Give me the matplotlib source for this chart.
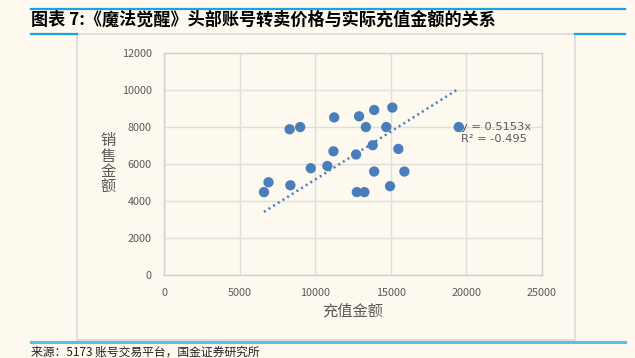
import numpy as np
import matplotlib
matplotlib.use('Agg')
import matplotlib.pyplot as plt
from matplotlib.lines import Line2D
from matplotlib.patches import Rectangle

plt.rcParams['font.family'] = ['Noto Sans CJK SC', 'DejaVu Sans']

# recharge amount (x) vs resale price (y)
recharge = [6600, 6900, 8300, 9000, 8350, 9700, 10800, 11200, 11250, 12700, 12750, 13250,
            12900, 13350, 13900, 13800, 13900, 14700, 15100, 14950, 15500, 15900, 19500]
price = [4470, 5000, 7860, 7980, 4840, 5760, 5880, 6670, 8500, 6500, 4470, 4470,
         8560, 7980, 8900, 7000, 5580, 7980, 9030, 4790, 6800, 5580, 7980]
slope = 0.5153
r2 = -0.495

title = '图表 7:《魔法觉醒》头部账号转卖价格与实际充值金额的关系'
source = '来源：5173 账号交易平台，国金证券研究所'
xlabel = '充值金额'
ylabel = '销售金额'

bg = '#FDF9EF'
blue = '#4A7EBB'
grid_c = '#DEDEDE'
text_c = '#595959'
line_c = '#1AA3E0'

W, H = 635, 358
fig = plt.figure(figsize=(W / 100, H / 100), dpi=100, facecolor=bg)


def fx(px):
    return px / W


def fy(py):
    return 1 - py / H


# header / footer rules and chart frame
fig.add_artist(Line2D([fx(31), fx(625)], [fy(8.7), fy(8.7)], color=line_c, lw=1.6))
fig.add_artist(Line2D([fx(31), fx(77)], [fy(33.8), fy(33.8)], color=line_c, lw=1.6))
fig.add_artist(Line2D([fx(575), fx(625)], [fy(33.8), fy(33.8)], color=line_c, lw=1.6))
fig.add_artist(Line2D([fx(31), fx(625)], [fy(342), fy(342)], color='#5BBDE8', lw=2.2))
fig.add_artist(Rectangle((fx(77), fy(340)), fx(575) - fx(77), fy(33.8) - fy(340),
                         facecolor=bg, edgecolor='#D9D9D9', lw=1.2, zorder=-1))

fig.text(fx(31), fy(19.5), title, fontsize=12.3, fontweight='bold', color='black',
         ha='left', va='center')
fig.text(fx(31), fy(352.5), source, fontsize=8.5, color='#222222', ha='left', va='center')

ax = fig.add_axes([fx(164.3), fy(275), fx(541.8) - fx(164.3), fy(52.5) - fy(275)])
ax.set_zorder(2)
ax.set_facecolor(bg)
ax.set_xlim(0, 25000)
ax.set_ylim(0, 12000)
ax.set_xticks(np.arange(0, 25001, 5000))
ax.set_yticks(np.arange(0, 12001, 2000))
ax.grid(True, color=grid_c, lw=1.0)
ax.set_axisbelow(True)
for s in ax.spines.values():
    s.set_color('#D0D0D0')
    s.set_linewidth(1.0)
ax.tick_params(length=0, labelsize=7.8, labelcolor=text_c, pad=9)

# trend line through origin
tx = np.array([min(recharge), max(recharge)])
ax.plot(tx, slope * tx, color=blue, lw=1.8, linestyle=(0, (0.8, 1.4)), zorder=2)
ax.text(19650, 8000, 'y = %.4fx' % slope, fontsize=8.2, color=text_c,
        ha='left', va='center', family='DejaVu Sans', zorder=1)
ax.text(19650, 7330, 'R² = %.3f' % r2, fontsize=8.2, color=text_c,
        ha='left', va='center', family='DejaVu Sans', zorder=1)
ax.scatter(recharge, price, s=55, color=blue, edgecolors='none', zorder=3)

ax.set_xlabel(xlabel, fontsize=11, color=text_c, labelpad=4)
fig.text(fx(108), fy(164), '\n'.join(ylabel), fontsize=11, color=text_c,
         ha='center', va='center', linespacing=0.88)

fig.savefig('out.png', dpi=100, facecolor=bg)
